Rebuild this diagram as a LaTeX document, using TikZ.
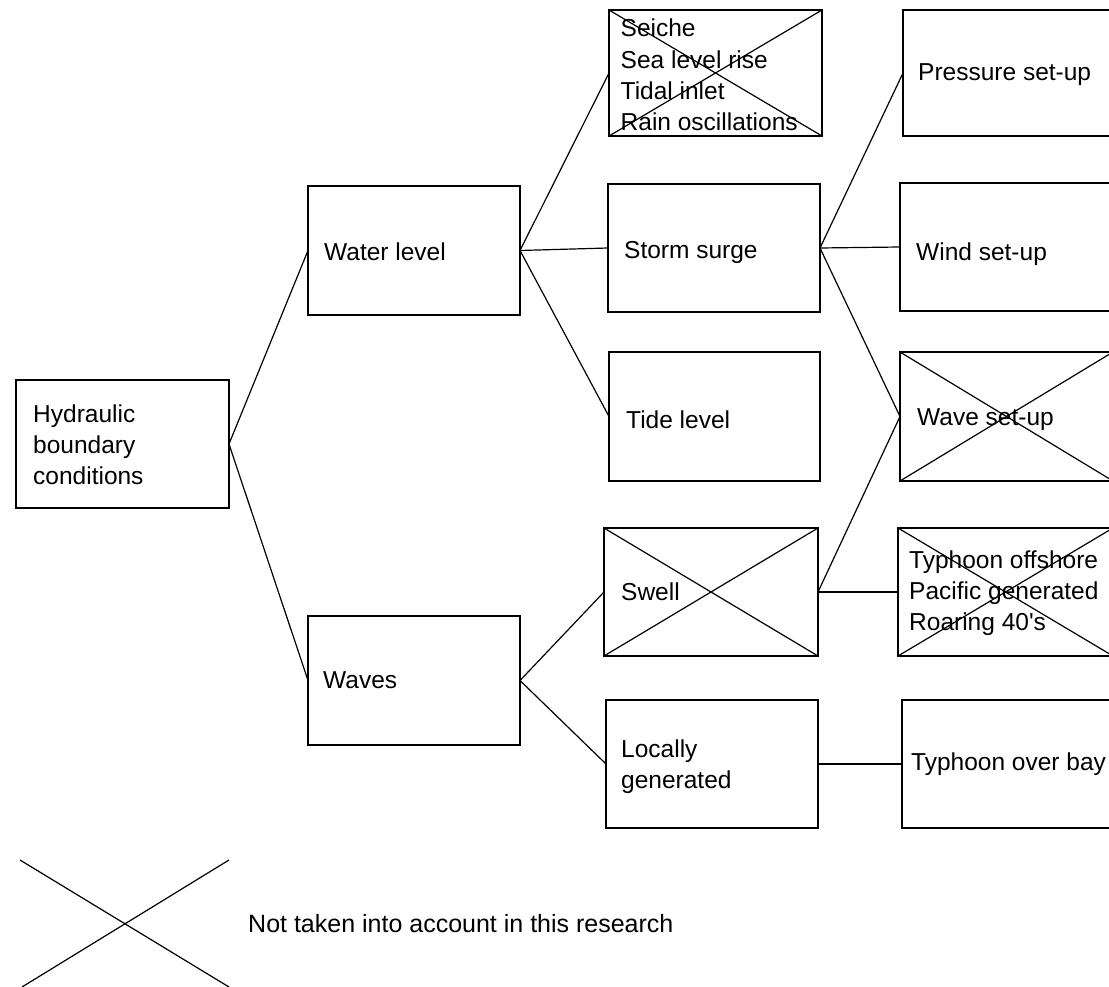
\documentclass[tikz,border=0pt]{standalone}
\usepackage{fontspec}
\setmainfont{Liberation Sans}
\newfontfamily\straightfont{Liberation Sans}[Ligatures=TeXOff]
\begin{document}
\begin{tikzpicture}[x=1pt,y=-1pt,
  box/.style={draw=black, line width=2.9pt, rectangle, outer sep=0pt, inner sep=0pt},
  lbl/.style={anchor=west, align=left, inner sep=0pt, font=\fontsize{24.5}{31.2}\selectfont},
  one/.style={text height=17.5pt, text depth=0pt},
  multi/.style={},
  conn/.style={draw=black, line width=1.2pt},
  crossline/.style={draw=black, line width=1.2pt},
  legtext/.style={font=\fontsize{25}{31}\selectfont, inner sep=0pt, anchor=west, text height=17.9pt, text depth=0pt}]
\newcommand\mkbox[9]{%
  \pgfmathsetmacro\mybw{#4-#2}\pgfmathsetmacro\mybh{#5-#3}%
  \node[box, minimum width=\mybw pt, minimum height=\mybh pt]
    (#1) at ({(#2+#4)/2},{(#3+#5)/2}) {};
  \node[lbl,#9] (#1-t) at (#6,#7) {#8};}
\useasboundingbox[fill=white] (0,0) rectangle (1109,987);
% column 1
\mkbox{hyd}{16}{380}{229}{508}{33}{445}{Hydraulic\\boundary\\conditions}{multi}
% column 2
\mkbox{wl}{308}{186}{520}{315}{324}{252}{Water level}{one}
\mkbox{wav}{308}{616}{520}{745}{323}{680}{Waves}{one}
% column 3
\mkbox{sei}{609}{10}{822}{136}{620.5}{75}{Seiche\\Sea level rise\\Tidal inlet\\Rain oscillations}{multi}
\mkbox{ss}{608}{184}{820}{312}{624}{250}{Storm surge}{one}
\mkbox{tide}{609}{352}{820}{481}{626}{420}{Tide level}{one}
\mkbox{sw}{604}{528}{818}{656}{621}{592}{Swell}{one}
\mkbox{loc}{606}{700}{818}{828}{621}{767}{Locally\\generated}{multi}
% column 4
\mkbox{pres}{903}{10}{1114}{136}{918}{72}{Pressure set-up}{one}
\mkbox{wind}{900}{183}{1113}{311}{916}{252}{Wind set-up}{one}
\mkbox{wsu}{900}{352}{1113}{481}{917}{417}{Wave set-up}{one}
\mkbox{typo}{898}{528}{1113}{656}{909}{593}{Typhoon offshore\\Pacific generated\\Roaring 40{\straightfont'}s}{multi}
\mkbox{typb}{902}{700}{1114}{828}{911}{762}{Typhoon over bay}{one}
% crosses
\foreach \b in {sei,sw,wsu,typo}{
  \draw[crossline] (\b.north west) -- (\b.south east);
  \draw[crossline] (\b.north east) -- (\b.south west);
}
% connectors
\draw[conn] (hyd.east) -- (wl.west);
\draw[conn] (hyd.east) -- (wav.west);
\draw[conn] (wl.east) -- (sei.west);
\draw[conn] (wl.east) -- (ss.west);
\draw[conn] (wl.east) -- (tide.west);
\draw[conn] (ss.east) -- (pres.west);
\draw[conn] (ss.east) -- (wind.west);
\draw[conn] (ss.east) -- (wsu.west);
\draw[conn] (wav.east) -- (sw.west);
\draw[conn] (wav.east) -- (loc.west);
\draw[conn] (sw.east) -- (wsu.west);
\draw[conn] (sw.east) -- (typo.west);
\draw[conn] (loc.east) -- (typb.west);
% legend
\coordinate (ltl) at (20,860);
\coordinate (ltr) at (229,860);
\coordinate (lbl) at (22,987);
\coordinate (lbr) at (229,987);
\draw[crossline] (ltl) -- (lbr);
\draw[crossline] (ltr) -- (lbl);
\node[legtext] (leg) at (248,924) {Not taken into account in this research};
\end{tikzpicture}
\end{document}
